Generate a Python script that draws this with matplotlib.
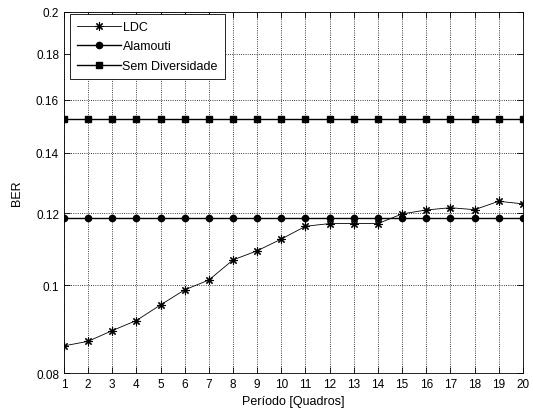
import matplotlib
matplotlib.use("Agg")
import matplotlib.pyplot as plt
from matplotlib.ticker import FixedLocator, FixedFormatter, NullLocator

plt.rcParams['font.family'] = ['Liberation Sans', 'DejaVu Sans']

# Data
periodo = list(range(1, 21))
ldc = [0.0857, 0.0867, 0.0891, 0.0914, 0.0951, 0.0988, 0.1013, 0.1066, 0.1091, 0.1124,
       0.1161, 0.1169, 0.1169, 0.1169, 0.1198, 0.1210, 0.1217, 0.1211, 0.1237, 0.1229]
alamouti = [0.1185] * 20
sem_div = [0.1524] * 20
yticks = [0.08, 0.1, 0.12, 0.14, 0.16, 0.18, 0.2]
ytick_labels = ["0.08", "0.1", "0.12", "0.14", "0.16", "0.18", "0.2"]

fig = plt.figure(figsize=(5.33, 4.14), dpi=100)
ax = fig.add_axes([0.12, 0.0966, 0.861, 0.872])

asterisk = (8, 2, 0)
ax.plot(periodo, ldc, color='black', linewidth=0.6, marker=asterisk, markersize=6,
        markeredgewidth=0.8, label="LDC")
ax.plot(periodo, alamouti, color='black', linewidth=1.0, marker='o', markersize=4.5, label="Alamouti")
ax.plot(periodo, sem_div, color='black', linewidth=1.0, marker='s', markersize=4.5, label="Sem Diversidade")

ax.set_yscale('log')
ax.set_ylim(0.08, 0.2)
ax.set_xlim(1, 20)
ax.yaxis.set_major_locator(FixedLocator(yticks))
ax.yaxis.set_major_formatter(FixedFormatter(ytick_labels))
ax.yaxis.set_minor_locator(NullLocator())
ax.set_xticks(periodo)

ax.tick_params(direction='in', top=True, right=True, labelsize=8.5, length=4, width=0.6)
for s in ax.spines.values():
    s.set_linewidth(0.6)

ax.grid(True, linestyle=':', color='black', linewidth=0.6)

ax.set_xlabel("Período [Quadros]", fontsize=9, labelpad=4)
ax.set_ylabel("BER", fontsize=9, labelpad=9)

leg = ax.legend(loc='upper left', bbox_to_anchor=(70 / 533, 1 - 15 / 414),
                bbox_transform=fig.transFigure, fontsize=9, fancybox=False, framealpha=1,
                edgecolor='black', borderaxespad=0, handlelength=3.5, handletextpad=0.15,
                borderpad=0.55, labelspacing=0.6)
leg.get_frame().set_linewidth(0.6)

fig.savefig("out.png", dpi=100)
